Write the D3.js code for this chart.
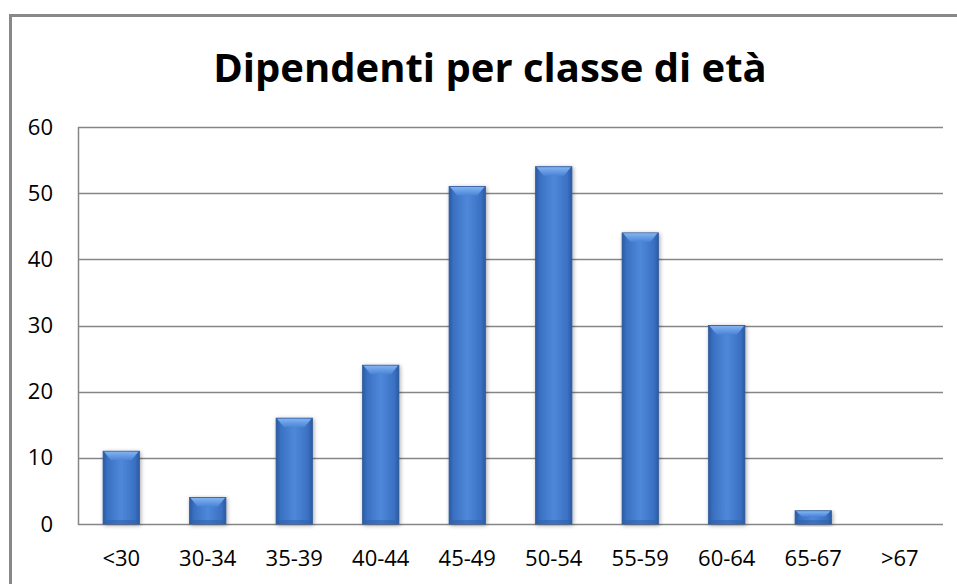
<!DOCTYPE html>
<html><head><meta charset="utf-8">
<script src="https://cdn.jsdelivr.net/npm/d3@7"></script>
<style>body{margin:0;background:#fff;}svg{display:block;}</style>
</head><body>
<svg id="c" width="957" height="584"></svg>
<script>
const categories = ["<30","30-34","35-39","40-44","45-49","50-54","55-59","60-64","65-67",">67"];
const values = [11,4,16,24,51,54,44,30,2,0];
const yTicks = [0,10,20,30,40,50,60];
const title = "Dipendenti per classe di età";

const svg = d3.select("#c");
const m = {left:78, right:943, top:127, bottom:524};

// outer frame
svg.append("rect").attr("x",10.5).attr("y",15.5).attr("width",960).attr("height",600)
  .attr("fill","#fff").attr("stroke","#888").attr("stroke-width",3);

const defs = svg.append("defs");
const g1 = defs.append("linearGradient").attr("id","barH").attr("x1","0").attr("x2","1").attr("y1","0").attr("y2","0");
[[0,"#2a5aa0"],[0.12,"#3a70c2"],[0.5,"#4f88da"],[0.88,"#3a70c2"],[1,"#2a5aa0"]].forEach(([o,c])=>g1.append("stop").attr("offset",o).attr("stop-color",c));
const g2 = defs.append("linearGradient").attr("id","bevel").attr("x1","0").attr("x2","0").attr("y1","0").attr("y2","1");
[[0,"#82b3f2"],[1,"#4a84d6"]].forEach(([o,c])=>g2.append("stop").attr("offset",o).attr("stop-color",c));
const f = defs.append("filter").attr("id","sh").attr("x","-30%").attr("y","-10%").attr("width","160%").attr("height","130%");
f.append("feGaussianBlur").attr("in","SourceAlpha").attr("stdDeviation",2).attr("result","b");
f.append("feOffset").attr("in","b").attr("dx",1).attr("dy",1).attr("result","o");
f.append("feComponentTransfer").attr("in","o").attr("result","o2").append("feFuncA").attr("type","linear").attr("slope",0.35);
const fm = f.append("feMerge"); fm.append("feMergeNode").attr("in","o2"); fm.append("feMergeNode").attr("in","SourceGraphic");

const x = d3.scaleBand().domain(categories).range([m.left,m.right]).paddingInner(0.58).paddingOuter(0.29);
const y = d3.scaleLinear().domain([0,60]).range([m.bottom,m.top]);

// gridlines
svg.append("g").selectAll("line").data(yTicks).join("line")
  .attr("x1",m.left).attr("x2",m.right)
  .attr("y1",d=>Math.round(y(d))+0.5).attr("y2",d=>Math.round(y(d))+0.5)
  .attr("stroke","#868686").attr("stroke-width",1.5);
svg.append("line").attr("x1",m.left+0.5).attr("x2",m.left+0.5).attr("y1",m.top).attr("y2",m.bottom+1)
  .attr("stroke","#868686").attr("stroke-width",1.5);

// y axis labels
const yAxis = d3.axisLeft(y).tickValues(yTicks).tickSize(0).tickPadding(25);
const ya = svg.append("g").attr("transform",`translate(${m.left},0)`).call(yAxis);
ya.select(".domain").remove();
ya.attr("font-family","Open Sans, sans-serif").attr("font-size",22);
ya.selectAll("text").attr("fill","#000");

// x axis labels
const xAxis = d3.axisBottom(x).tickSize(0).tickPadding(26);
const xa = svg.append("g").attr("transform",`translate(0,${m.bottom})`).call(xAxis);
xa.select(".domain").remove();
xa.attr("font-family","Open Sans, sans-serif").attr("font-size",22);
xa.selectAll("text").attr("fill","#000");

// bars
const bars = svg.append("g").selectAll("g").data(categories.map((c,i)=>({c,v:values[i]})).filter(d=>d.v>0)).join("g")
  .attr("filter","url(#sh)");
bars.append("rect").attr("x",d=>x(d.c)).attr("y",d=>y(d.v)).attr("width",x.bandwidth())
  .attr("height",d=>y(0)-y(d.v)).attr("fill","url(#barH)").attr("stroke","#2d5a9c").attr("stroke-width",0.8);
bars.append("path").attr("d",d=>{
  const x0=x(d.c), w=x.bandwidth(), t=y(d.v), hgt=Math.min(9,(y(0)-y(d.v))*0.45), i=Math.min(7,hgt);
  return `M${x0+1},${t+0.5}L${x0+w-1},${t+0.5}L${x0+w-1-i},${t+hgt}L${x0+1+i},${t+hgt}Z`;
}).attr("fill","url(#bevel)");
bars.append("rect").attr("x",d=>x(d.c)+1).attr("y",d=>y(0)-4).attr("width",x.bandwidth()-2).attr("height",3)
  .attr("fill","#2f62ad").attr("opacity",0.6);

// title
svg.append("text").attr("x",490).attr("y",82).attr("text-anchor","middle")
  .attr("font-family","Open Sans, sans-serif").attr("font-weight","bold").attr("font-size",40)
  .attr("fill","#000").text(title);
</script>
</body></html>
